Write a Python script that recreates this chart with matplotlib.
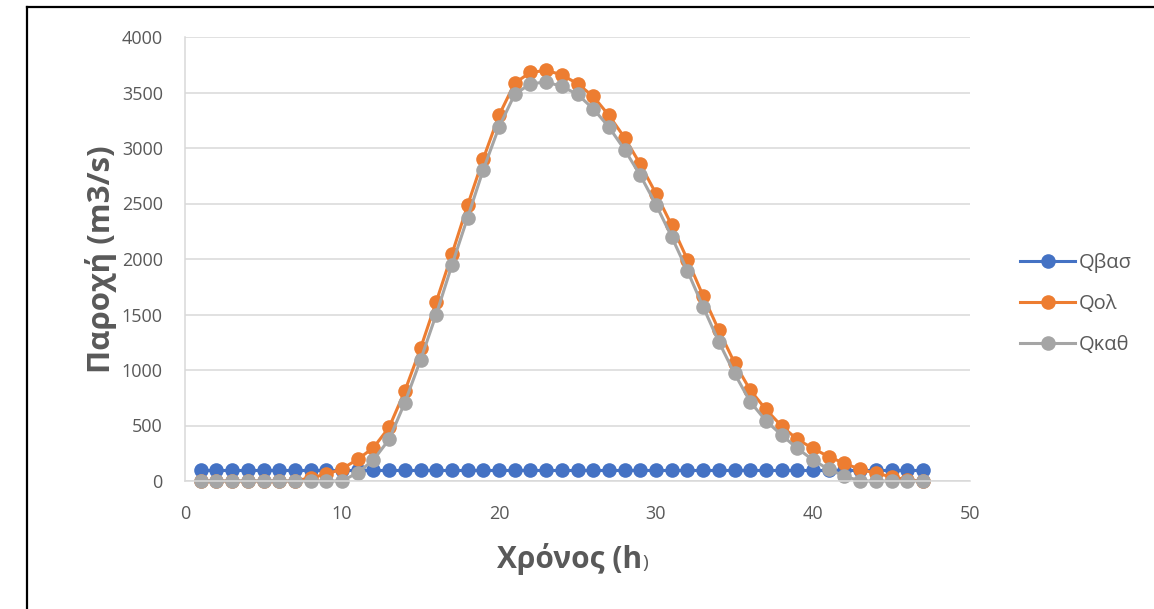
import matplotlib
matplotlib.use("Agg")
import matplotlib.pyplot as plt
from matplotlib.lines import Line2D

# hours 1..47
hours = list(range(1, 48))

q_base = [100] * 47

q_total = [0, 0, 0, 0, 0, 0, 0, 30, 60, 110,
           195, 300, 483, 810, 1194, 1614, 2043, 2484, 2904, 3294,
           3585, 3681, 3699, 3660, 3579, 3465, 3294, 3093, 2853, 2589,
           2304, 1995, 1668, 1359, 1065, 819, 645, 495, 375, 294,
           219, 159, 105, 69, 39, 10, 0]

q_net = [0, 0, 0, 0, 0, 0, 0, 0, 0, 0,
         75, 189, 375, 705, 1089, 1500, 1944, 2373, 2805, 3189,
         3483, 3579, 3594, 3556, 3483, 3354, 3189, 2985, 2754, 2490,
         2199, 1893, 1569, 1254, 969, 714, 543, 414, 294, 189,
         105, 45, 0, 0, 0, 0, 0]

series_names = ["Qβασ", "Qολ", "Qκαθ"]
series_colors = ["#4472C4", "#ED7D31", "#A5A5A5"]

x_ticks = [0, 10, 20, 30, 40, 50]
y_ticks = list(range(0, 4001, 500))

TXT = "#595959"
GRID = "#D9D9D9"
FONT = ["Open Sans", "DejaVu Sans"]
plt.rcParams["font.family"] = FONT

W, H = 1154, 609
fig = plt.figure(figsize=(W / 100, H / 100), dpi=100)
fig.patch.set_facecolor("white")

ax = fig.add_axes([185 / W, 1 - 481 / H, (970 - 185) / W, (481 - 37) / H])

for vals, name, col in zip([q_base, q_total, q_net], series_names, series_colors):
    ax.plot(hours, vals, color=col, lw=2.2, marker="o", ms=10.5,
            markeredgewidth=0, label=name, clip_on=False)

ax.set_xlim(0, 50)
ax.set_ylim(0, 4000)
ax.set_xticks(x_ticks)
ax.set_yticks(y_ticks)
ax.tick_params(length=0, labelsize=13, colors=TXT)
ax.tick_params(axis="y", pad=16)
ax.tick_params(axis="x", pad=17)
ax.grid(axis="y", color=GRID, lw=1.1)
ax.set_axisbelow(True)
for s in ("top", "right"):
    ax.spines[s].set_visible(False)
for s in ("left", "bottom"):
    ax.spines[s].set_color(GRID)
    ax.spines[s].set_linewidth(1.1)

ax.set_ylabel("Παροχή (m3/s)", fontsize=22.5, fontweight="bold", color=TXT, labelpad=3)

# x label: bold "Χρόνος (h" followed by a small regular ")"
xl = fig.text(497 / W, 1 - 568 / H, "Χρόνος (h", fontsize=21.5, fontweight="bold",
              color=TXT, ha="left", va="baseline")
fig.canvas.draw()
bb = xl.get_window_extent()
fig.text((bb.x1 + 0.5) / W, 1 - 568 / H, ")", fontsize=14, color=TXT, ha="left", va="baseline")

leg = fig.legend(loc="upper left", bbox_to_anchor=(1020 / W, 1 - 253 / H), frameon=False,
                 fontsize=14.5, borderpad=0, borderaxespad=0, handlelength=2.75,
                 handletextpad=0.15, labelspacing=1.05, labelcolor=TXT)

# outer frame (left and top edges only)
fig.add_artist(Line2D([27 / W, 27 / W], [0, 1 - 7 / H], transform=fig.transFigure,
                      color="black", lw=1.6))
fig.add_artist(Line2D([27 / W, 1], [1 - 7 / H, 1 - 7 / H], transform=fig.transFigure,
                      color="black", lw=1.6))

fig.savefig("out.png", dpi=100, facecolor="white")
